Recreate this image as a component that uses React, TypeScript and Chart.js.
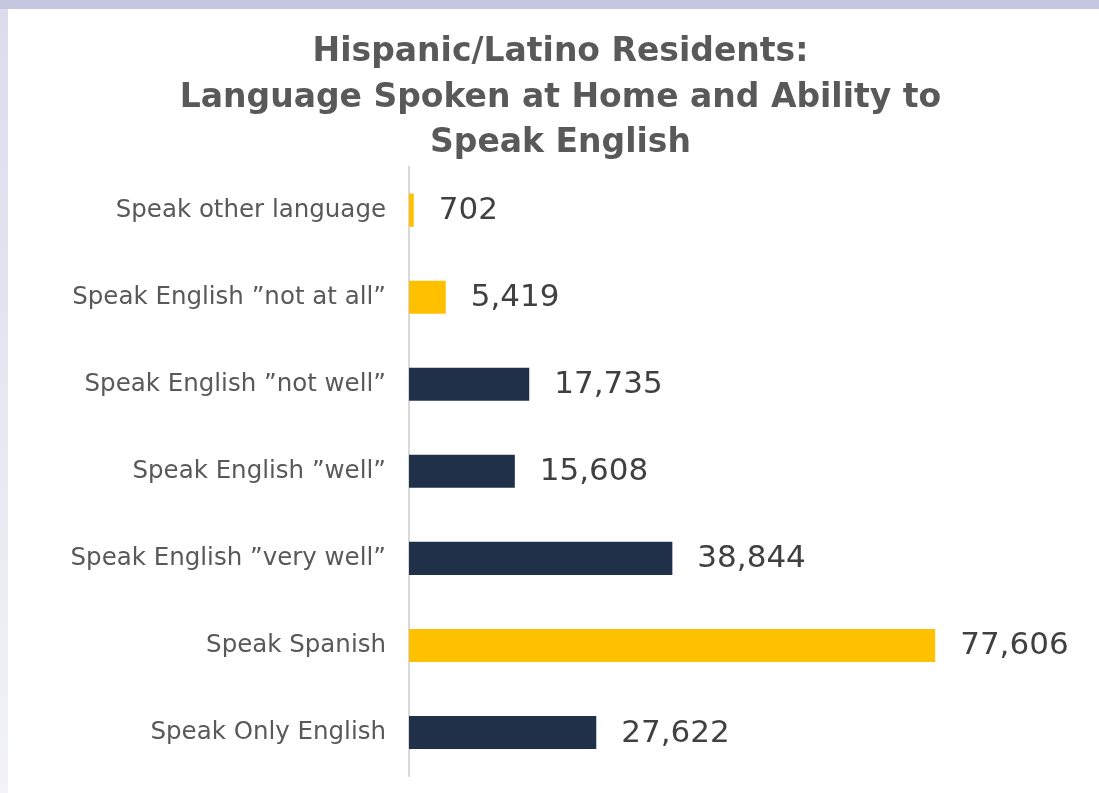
import React, { useEffect, useRef } from "react";
import { Chart, registerables } from "chart.js";

Chart.register(...registerables);

const categories = [
  "Speak other language",
  "Speak English \u201Dnot at all\u201D",
  "Speak English \u201Dnot well\u201D",
  "Speak English \u201Dwell\u201D",
  "Speak English \u201Dvery well\u201D",
  "Speak Spanish",
  "Speak Only English",
];
const values = [702, 5419, 17735, 15608, 38844, 77606, 27622];
const highlighted = [true, true, false, false, false, true, false];
const titleLines = [
  "Hispanic/Latino Residents:",
  "Language Spoken at Home and Ability to",
  "Speak English",
];

const YELLOW = "#FFC000";
const NAVY = "#203048";

const valueLabels = {
  id: "valueLabels",
  afterDatasetsDraw(chart: any) {
    const ctx = chart.ctx;
    const meta = chart.getDatasetMeta(0);
    ctx.save();
    ctx.font = "31px 'DejaVu Sans'";
    ctx.fillStyle = "#404040";
    ctx.textAlign = "left";
    ctx.textBaseline = "middle";
    meta.data.forEach((bar: any, i: number) => {
      const v = chart.data.datasets[0].data[i] as number;
      ctx.fillText(v.toLocaleString("en-US"), bar.x + 25, bar.y + 1);
    });
    ctx.restore();
  },
};

export default function App() {
  const ref = useRef<HTMLCanvasElement | null>(null);
  useEffect(() => {
    if (!ref.current) return;
    const chart = new Chart(ref.current, {
      type: "bar",
      data: {
        labels: categories,
        datasets: [
          {
            data: values,
            backgroundColor: highlighted.map((h) => (h ? YELLOW : NAVY)),
            borderWidth: 0,
            barPercentage: 0.38,
            categoryPercentage: 1,
          },
        ],
      },
      options: {
        indexAxis: "y",
        animation: false,
        responsive: false,
        maintainAspectRatio: false,
        layout: { padding: { left: 26, right: 12, top: 0, bottom: 17 } },
        plugins: {
          legend: { display: false },
          tooltip: { enabled: false },
          title: {
            display: true,
            text: titleLines,
            color: "#595959",
            font: { family: "'DejaVu Sans'", size: 33, weight: "bold", lineHeight: 1.38 },
            padding: { top: 21, bottom: 0 },
          },
        },
        scales: {
          x: {
            display: false,
            min: 0,
            max: 100000,
          },
          y: {
            afterFit(scale: any) {
              scale.width = 375;
              scale.paddingTop = 0;
              scale.paddingBottom = 0;
            },
            grid: { display: false, drawTicks: false },
            border: { display: true, color: "#d9d9d9", width: 2 },
            ticks: {
              padding: 23,
              color: "#595959",
              font: { family: "'DejaVu Sans'", size: 24.5 },
            },
          },
        },
      },
      plugins: [valueLabels],
    });
    return () => chart.destroy();
  }, []);

  return (
    <div
      style={{
        position: "absolute",
        left: 0,
        top: 0,
        width: 1099,
        height: 793,
        overflow: "hidden",
        background:
          "linear-gradient(180deg, #c6c6e0 0px, #c6c6e0 9px, #dcdcec 9px, #f2f2f8 100%)",
      }}
    >
      <div
        style={{
          position: "absolute",
          left: 8,
          top: 9,
          width: 1091,
          height: 784,
          background: "#ffffff",
        }}
      >
        <canvas ref={ref} width={1091} height={784} style={{ width: 1091, height: 784, display: "block" }} />
      </div>
    </div>
  );
}
